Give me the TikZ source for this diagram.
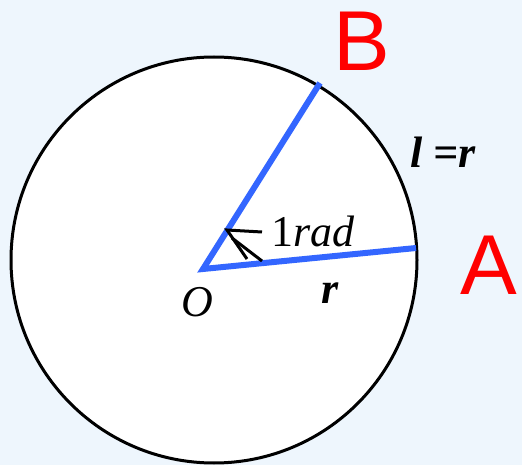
\documentclass[tikz,border=0pt]{standalone}
\usepackage{fontspec}
\setsansfont{Liberation Sans}
\newfontfamily\tms{LiberationSerif}[Extension=.ttf, UprightFont=*-Regular, ItalicFont=*-Italic, BoldFont=*-Bold, BoldItalicFont=*-BoldItalic]
\definecolor{bgblue}{RGB}{238,246,253}
\definecolor{rayblue}{RGB}{51,102,255}
\begin{document}
\begin{tikzpicture}[x=1pt, y=-1pt,
          ray/.style={draw=rayblue, line width=6pt},
          mk/.style={draw=black, line width=3pt},
          pt/.style={font=\sffamily\fontsize{85}{85}\selectfont, text=red, inner sep=0pt},
          lb/.style={font=\tms\fontsize{44}{44}\selectfont, inner sep=0pt}]
        \fill[bgblue] (0,0) rectangle (522,465);
        \useasboundingbox (0,0) rectangle (522,465);
        \draw[fill=white, line width=3pt] (214,260) circle[radius=203pt];
        \coordinate (O) at (203,269);
        \coordinate (A) at (416,248);
        \coordinate (B) at (320,83);
        \draw[ray] (A) -- (O) -- (B);
        % angle mark
        \draw[mk] (262,261) -- (232,238);
        \draw[mk] (262,232) -- (227,230) -- (247,259);
        \node[pt] (nA) at (489,265) {A};
        \node[pt] (nB) at (362,41) {B};
        \node[lb] (nO) at (197,302) {\itshape O};
        \node[lb] (nr) at (330,293) {\bfseries\itshape r};
        \node[lb] (nrad) at (313,231) {1\itshape rad};
        \node[lb] (nl) at (443,152) {\bfseries\itshape l =r};
      \end{tikzpicture}
\end{document}
